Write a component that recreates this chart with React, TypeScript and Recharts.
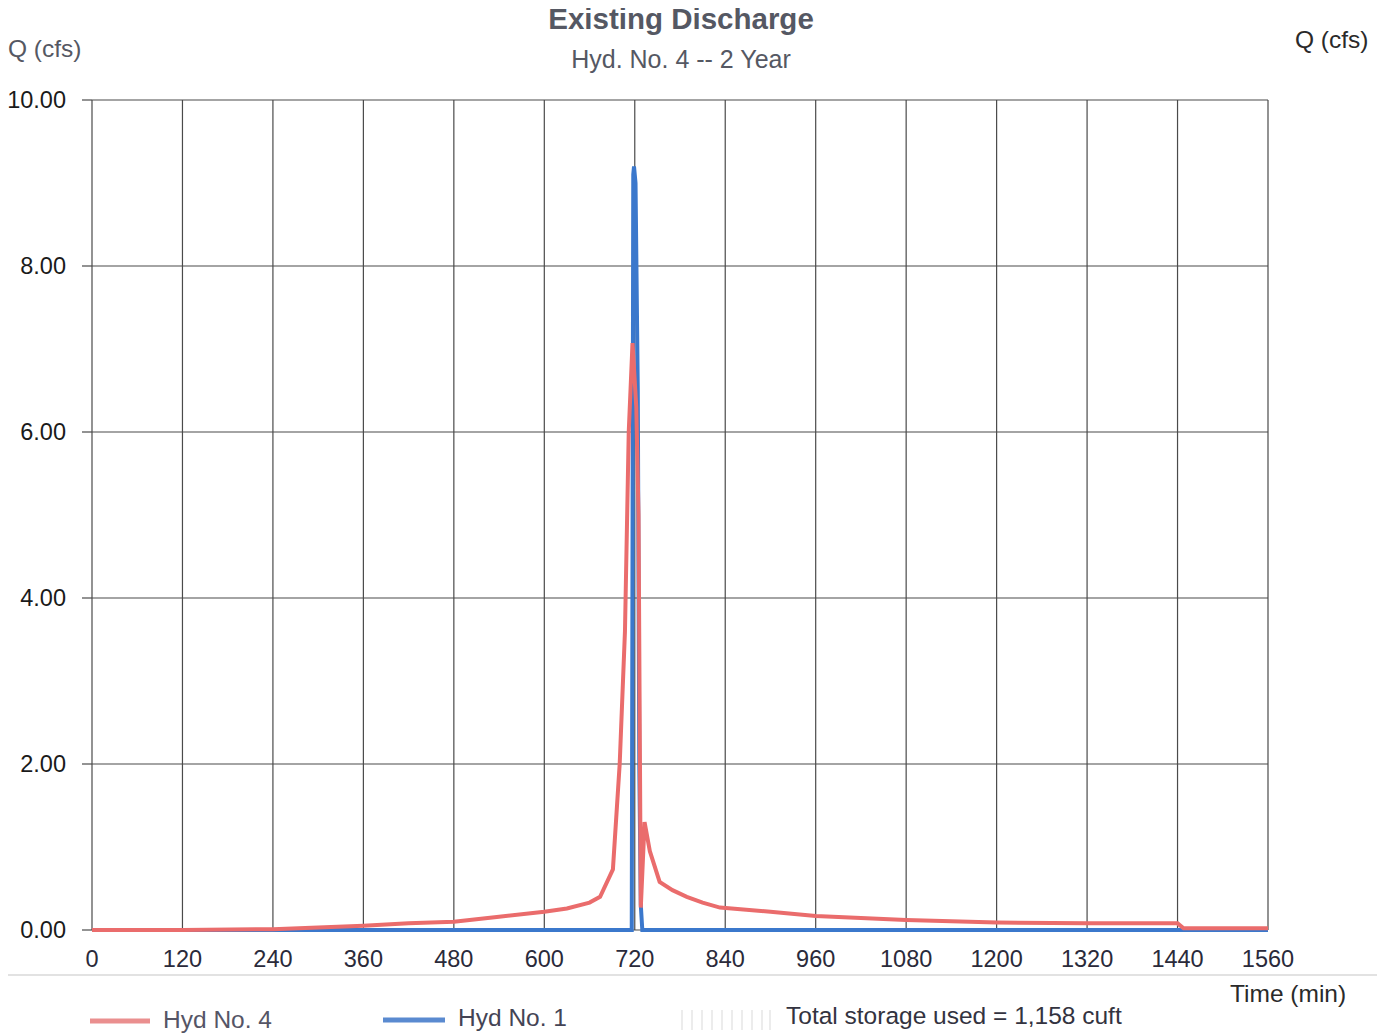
import React from "react";
import { LineChart, Line, XAxis, YAxis, CartesianGrid } from "recharts";

const xTicks = [0, 120, 240, 360, 480, 600, 720, 840, 960, 1080, 1200, 1320, 1440, 1560];
const yTicks = [0, 2, 4, 6, 8, 10];

// Hyd No. 4 (red)
const redTime = [0, 120, 240, 300, 360, 420, 480, 540, 600, 630, 660, 674, 691, 700, 707, 712, 717, 722, 725, 728, 733, 740, 753, 770, 789, 810, 833, 900, 960, 1080, 1200, 1320, 1440, 1448, 1560];
const redFlow = [0, 0, 0.01, 0.03, 0.05, 0.08, 0.1, 0.16, 0.22, 0.26, 0.33, 0.4, 0.73, 2.0, 3.6, 6.0, 7.07, 6.3, 5.0, 0.27, 1.3, 0.95, 0.58, 0.48, 0.4, 0.33, 0.27, 0.22, 0.17, 0.12, 0.09, 0.08, 0.08, 0.02, 0.02];

// Hyd No. 1 (blue)
const blueTime = [0, 600, 716, 718, 719, 721, 724, 726, 728, 730, 1440, 1560];
const blueFlow = [0, 0, 0, 9.1, 9.2, 9.0, 6.5, 2.0, 0.3, 0, 0, 0];

const redData = redTime.map((t, i) => ({ t, q: redFlow[i] }));
const blueData = blueTime.map((t, i) => ({ t, q: blueFlow[i] }));

const FONT = "'Liberation Sans', Arial, sans-serif";
const fmt = (v: number) => v.toFixed(2);

export default function App() {
  return (
    <div
      style={{
        position: "relative",
        width: 1385,
        height: 1036,
        marginTop: -8,
        marginLeft: -8,
        background: "#fff",
        fontFamily: FONT,
        overflow: "hidden",
      }}
    >
      <LineChart
        width={1385}
        height={1036}
        margin={{ top: 100, right: 37, bottom: 66, left: 12 }}
      >
        <CartesianGrid yAxisId="left" stroke="#4a4a4a" strokeWidth={1.2} />
        <XAxis
          type="number"
          dataKey="t"
          domain={[0, 1560]}
          ticks={xTicks}
          allowDataOverflow
          axisLine={false}
          tickLine={false}
          tickSize={0}
          tickMargin={20}
          height={40}
          tick={{ fill: "#2a2a3a", fontSize: 23.5, fontFamily: FONT }}
        />
        <YAxis
          yAxisId="left"
          orientation="left"
          domain={[0, 10]}
          ticks={yTicks}
          tickFormatter={fmt}
          width={80}
          axisLine={false}
          tickLine={{ stroke: "#4a4a4a", strokeWidth: 1.2 }}
          tickSize={10}
          tickMargin={16}
          tick={{ fill: "#1a1a1a", fontSize: 23.5, fontFamily: FONT }}
        />
        <YAxis
          yAxisId="right"
          orientation="right"
          domain={[0, 10]}
          ticks={yTicks}
          tickFormatter={fmt}
          width={80}
          axisLine={false}
          tickLine={{ stroke: "#4a4a4a", strokeWidth: 1.2 }}
          tickSize={10}
          tickMargin={18}
          tick={{ fill: "#1a1a1a", fontSize: 23.5, fontFamily: FONT }}
        />
        <Line
          yAxisId="left"
          data={blueData}
          dataKey="q"
          type="linear"
          stroke="#3b78cc"
          strokeWidth={4}
          dot={false}
          isAnimationActive={false}
        />
        <Line
          yAxisId="left"
          data={redData}
          dataKey="q"
          type="linear"
          stroke="#ea6c6c"
          strokeWidth={4}
          dot={false}
          isAnimationActive={false}
        />
      </LineChart>

      <div style={{ position: "absolute", left: 0, width: 1362, top: 2, textAlign: "center", fontSize: 29.5, fontWeight: "bold", color: "#555863" }}>
        Existing Discharge
      </div>
      <div style={{ position: "absolute", left: 0, width: 1362, top: 45, textAlign: "center", fontSize: 25, color: "#555863" }}>
        Hyd. No. 4 -- 2 Year
      </div>
      <div style={{ position: "absolute", left: 8, top: 35, fontSize: 24.5, color: "#555863" }}>Q (cfs)</div>
      <div style={{ position: "absolute", left: 1295, top: 26, fontSize: 24.5, color: "#2a2a2a" }}>Q (cfs)</div>
      <div style={{ position: "absolute", left: 1230, top: 980, fontSize: 24.5, color: "#2a2a2a" }}>Time (min)</div>

      <div style={{ position: "absolute", left: 0, top: 974, width: 1385, height: 2, background: "#e2e2e2" }} />

      <svg style={{ position: "absolute", left: 0, top: 1000 }} width={1385} height={36}>
        <line x1={90} y1={21} x2={150} y2={21} stroke="#ea8f8f" strokeWidth={5} />
        <line x1={383} y1={20} x2={445} y2={20} stroke="#5a8ad0" strokeWidth={5} />
        {[682, 692, 702, 712, 722, 732, 742, 752, 762, 770].map((x) => (
          <line key={x} x1={x} y1={10} x2={x} y2={30} stroke="#ececec" strokeWidth={2} />
        ))}
      </svg>
      <div style={{ position: "absolute", left: 163, top: 1006, fontSize: 24.5, color: "#555566" }}>Hyd No. 4</div>
      <div style={{ position: "absolute", left: 458, top: 1004, fontSize: 24.5, color: "#444455" }}>Hyd No. 1</div>
      <div style={{ position: "absolute", left: 786, top: 1002, fontSize: 24.5, color: "#333340" }}>Total storage used = 1,158 cuft</div>
    </div>
  );
}
